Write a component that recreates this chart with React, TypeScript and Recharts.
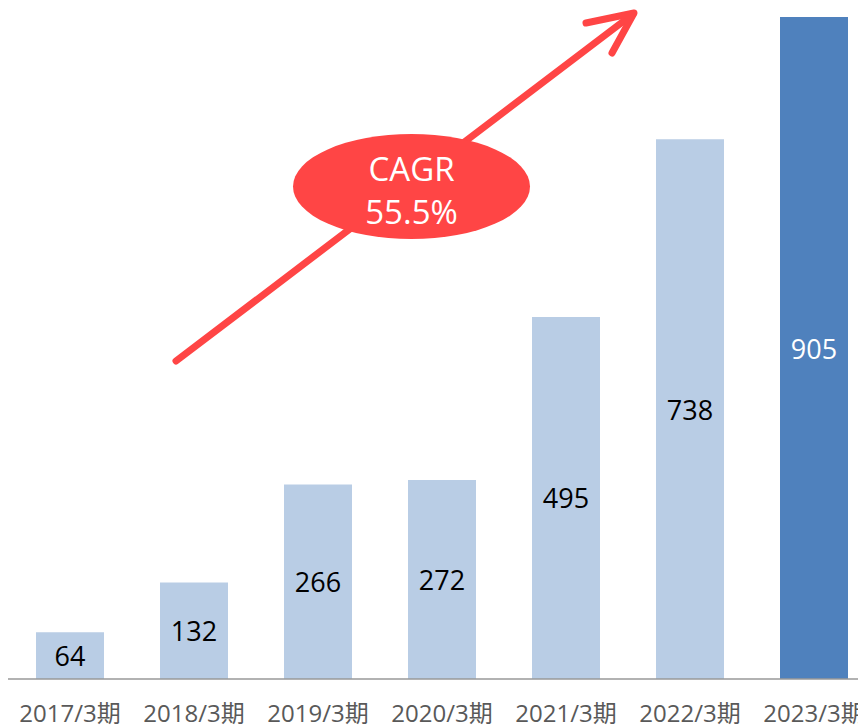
import { BarChart, Bar, XAxis, YAxis, LabelList, Cell, Customized } from "recharts";

const periods = ["2017/3期", "2018/3期", "2019/3期", "2020/3期", "2021/3期", "2022/3期", "2023/3期"];
const sales = [64, 132, 266, 272, 495, 738, 905];
const highlight = [false, false, false, false, false, false, true];
const cagrLines = ["CAGR", "55.5%"];

const data = periods.map((p, i) => ({ period: p, value: sales[i], hl: highlight[i] }));

const FONT = "'Open Sans', 'Noto Sans CJK JP', sans-serif";
const RED = "#ff4545";

// arrow + CAGR bubble, drawn in chart pixel space (chart sits at 8,8 on the page)
function CagrNote() {
  return (
    <g>
      <g stroke={RED} strokeWidth={7} strokeLinecap="round" fill="none">
        <line x1={168} y1={353} x2={625} y2={6} />
        <polyline points="578,15 626,5 604,45" strokeLinejoin="round" />
      </g>
      <ellipse cx={403.5} cy={178.5} rx={118.5} ry={52.5} fill={RED} />
      <text x={403.5} y={160} fill="#fff" fontSize={33} textAnchor="middle" dominantBaseline="central" fontFamily={FONT}>
        {cagrLines[0]}
      </text>
      <text x={403.5} y={203} fill="#fff" fontSize={33} textAnchor="middle" dominantBaseline="central" fontFamily={FONT}>
        {cagrLines[1]}
      </text>
    </g>
  );
}

function PeriodTick(props: any) {
  const { x, y, payload } = props;
  return (
    <text x={x} y={y + 25} fill="#595959" fontSize={24} textAnchor="middle" dominantBaseline="central" fontFamily={FONT}>
      {payload.value}
    </text>
  );
}

export default function App() {
  return (
    <div style={{ width: 858, height: 719, overflow: "hidden" }}>
      <BarChart
        width={868}
        height={719}
        data={data}
        margin={{ top: 9, right: 0, bottom: 0, left: 0 }}
        barSize={68}
      >
        <YAxis hide domain={[0, 905]} />
        <XAxis
          dataKey="period"
          height={48}
          stroke="#999999"
          strokeWidth={1.5}
          tickLine={false}
          tick={<PeriodTick />}
          interval={0}
        />
        <Bar dataKey="value" isAnimationActive={false}>
          {data.map((d) => (
            <Cell key={d.period} fill={d.hl ? "#4f81bd" : "#b9cde5"} />
          ))}
          <LabelList
            dataKey="value"
            position="center"
            content={(p: any) => {
              const i = p.index;
              return (
                <text
                  x={p.x + p.width / 2}
                  y={p.y + p.height / 2}
                  fill={highlight[i] ? "#ffffff" : "#000000"}
                  fontSize={27}
                  textAnchor="middle"
                  dominantBaseline="central"
                  fontFamily={FONT}
                >
                  {p.value}
                </text>
              );
            }}
          />
        </Bar>
        <Customized component={CagrNote} />
      </BarChart>
    </div>
  );
}
